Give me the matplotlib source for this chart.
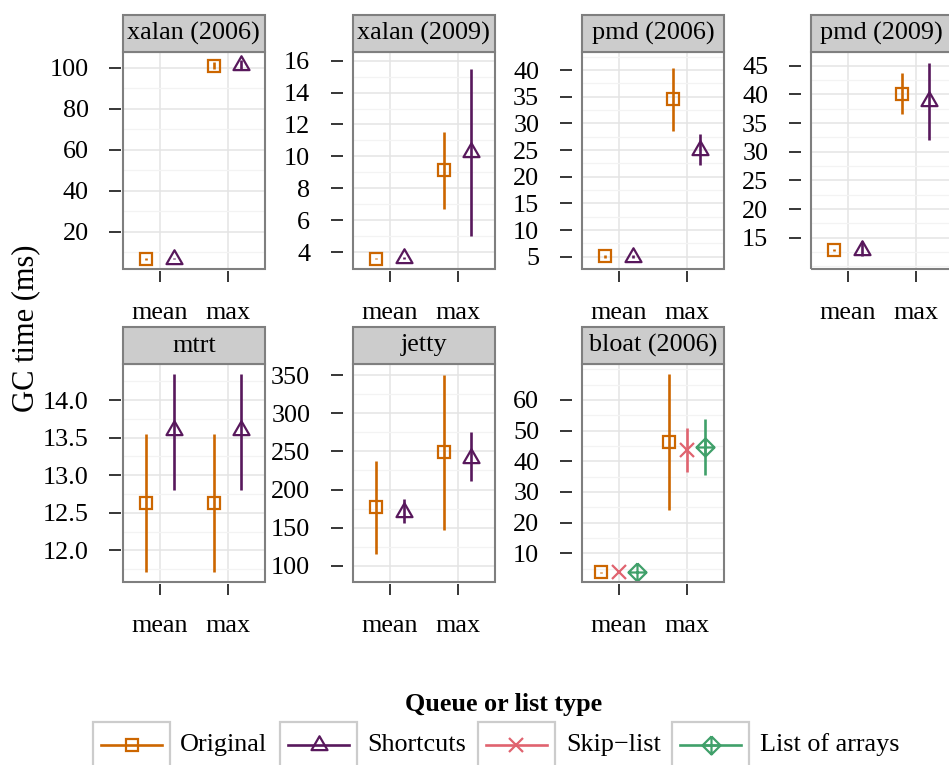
import matplotlib
matplotlib.use('Agg')
import matplotlib.pyplot as plt
from matplotlib.path import Path
from matplotlib.patches import Rectangle
from matplotlib.lines import Line2D
from matplotlib.ticker import MultipleLocator, FormatStrFormatter
import numpy as np

plt.rcParams['font.family'] = ['Liberation Serif', 'DejaVu Serif']

# ── Data: GC time (ms) per benchmark, [mean, max] ─────────────
benchmarks = ['xalan (2006)', 'xalan (2009)', 'pmd (2006)', 'pmd (2009)',
              'mtrt', 'jetty', 'bloat (2006)']
stats = ['mean', 'max']
series_names = ['Original', 'Shortcuts', 'Skip\u2212list', 'List of arrays']

orig_val = [[6.7, 101.0], [3.6, 9.13], [5.1, 34.5], [12.85, 40.1],
            [12.63, 12.63], [177, 249], [3.8, 46.2]]
orig_lo = [[6.4, 99.2], [3.55, 6.7], [4.8, 28.6], [12.6, 36.6],
           [11.71, 11.71], [116, 147], [3.6, 24.1]]
orig_hi = [[7.0, 102.8], [3.65, 11.5], [5.4, 40.4], [13.1, 43.7],
           [13.545, 13.545], [237.5, 351], [4.0, 68.4]]

short_val = [[6.9, 101.3], [3.65, 10.27], [5.0, 25.0], [12.9, 38.9],
             [13.6, 13.6], [171, 242], None]
short_lo = [[6.6, 98.8], [3.6, 5.0], [4.7, 22.2], [11.8, 32.0],
            [12.81, 12.81], [156, 211], None]
short_hi = [[7.2, 103.8], [3.7, 15.5], [5.3, 28.0], [14.4, 45.4],
            [14.35, 14.35], [188, 275], None]

skip_val = [None, None, None, None, None, None, [4.0, 43.7]]
skip_lo = [None, None, None, None, None, None, [4.0, 36.6]]
skip_hi = [None, None, None, None, None, None, [4.0, 50.8]]

arrays_val = [None, None, None, None, None, None, [3.8, 44.8]]
arrays_lo = [None, None, None, None, None, None, [3.7, 35.5]]
arrays_hi = [None, None, None, None, None, None, [3.9, 53.9]]

y_ticks = [[20, 40, 60, 80, 100],
           [4, 6, 8, 10, 12, 14, 16],
           [5, 10, 15, 20, 25, 30, 35, 40],
           [15, 20, 25, 30, 35, 40, 45],
           [12.0, 12.5, 13.0, 13.5, 14.0],
           [100, 150, 200, 250, 300, 350],
           [10, 20, 30, 40, 50, 60]]
y_lims = [(1.8, 107.7), (2.95, 16.54), (2.7, 43.4), (9.54, 47.4),
          (11.58, 14.48), (78.6, 364.8), (0.64, 71.7)]

# ── Styles ─────────────────────────────────────────────────────
colors = ['#cc6600', '#58185c', '#e0636f', '#40a06a']

tri = Path([(-1, -0.577), (1, -0.577), (0, 1.155), (-1, -0.577)],
           [Path.MOVETO, Path.LINETO, Path.LINETO, Path.CLOSEPOLY])
dia_plus = Path([(0, 1), (1, 0), (0, -1), (-1, 0), (0, 1),
                 (-1, 0), (1, 0), (0, -1), (0, 1)],
                [Path.MOVETO, Path.LINETO, Path.LINETO, Path.LINETO, Path.LINETO,
                 Path.MOVETO, Path.LINETO, Path.MOVETO, Path.LINETO])
markers = ['s', tri, 'x', dia_plus]
msizes = [8.6, 13.3, 9.4, 13.0]
LW = 1.9
MEW = 1.6

series = [(orig_val, orig_lo, orig_hi), (short_val, short_lo, short_hi),
          (skip_val, skip_lo, skip_hi), (arrays_val, arrays_lo, arrays_hi)]

FS = 18.8
W, H = 949, 765
fig = plt.figure(figsize=(W / 100, H / 100), dpi=100)

col_x = [122.7, 352.7, 581.7, 810.7]
# first column's y ticks sit right against the panel, the others further out
tick_gap = [1.2, 7.2, 7.2, 7.2]
pw = 142.3
rows = [(52, 269), (364, 582)]
strip_h = 37

for i, name in enumerate(benchmarks):
    r, c = divmod(i, 4)
    top, bot = rows[r]
    ph = bot - top
    ax = fig.add_axes([col_x[c] / W, 1 - bot / H, pw / W, ph / H])

    ax.set_xlim(0.45, 2.55)
    ax.set_ylim(*y_lims[i])
    ax.set_xticks([1, 2])
    ax.set_xticklabels(stats)
    ax.set_yticks(y_ticks[i])
    step = y_ticks[i][1] - y_ticks[i][0]
    ax.yaxis.set_minor_locator(MultipleLocator(step / 2))
    if step < 1:
        ax.yaxis.set_major_formatter(FormatStrFormatter('%.1f'))

    ax.grid(which='major', color='#e4e4e4', lw=1.1)
    ax.grid(which='minor', axis='y', color='#f3f3f3', lw=0.9)
    ax.set_axisbelow(True)

    for s in ax.spines.values():
        s.set_visible(False)
    ax.spines['left'].set_position(('outward', tick_gap[c]))
    ax.spines['bottom'].set_position(('outward', 1.5))
    ax.tick_params(axis='y', which='major', direction='out', length=9,
                   width=1.1, pad=14.4, labelsize=FS)
    ax.tick_params(axis='x', which='major', direction='out', length=8,
                   width=1.1, pad=14.5, labelsize=FS)
    ax.tick_params(which='minor', length=0)

    ax.add_patch(Rectangle((0, 0), 1, 1, transform=ax.transAxes, fill=False,
                           ec='#7f7f7f', lw=1.5, clip_on=False, zorder=5))
    sh = strip_h / ph
    ax.add_patch(Rectangle((0, 1), 1, sh, transform=ax.transAxes, fc='#cccccc',
                           ec='#7f7f7f', lw=1.5, clip_on=False, zorder=5))
    ax.text(0.5, 1 + sh / 2, name, transform=ax.transAxes, ha='center',
            va='center', fontsize=FS, zorder=6)

    present = [k for k in range(4) if series[k][0][i] is not None]
    n = len(present)
    offsets = (np.arange(n) - (n - 1) / 2) * 0.8 / n
    for off, k in zip(offsets, present):
        val, lo, hi = (np.array(a[i], dtype=float) for a in series[k])
        x = np.arange(1, 3) + off
        ax.vlines(x, lo, hi, color=colors[k], lw=LW, zorder=3)
        ax.plot(x, val, ls='none', marker=markers[k], ms=msizes[k], mfc='none',
                mec=colors[k], mew=MEW, zorder=4)

fig.text(26 / W, 1 - 328 / H, 'GC time (ms)', rotation=90, ha='center',
         va='center', fontsize=22)

# ── Legend ─────────────────────────────────────────────────────
fig.text(504 / W, 1 - 704 / H, 'Queue or list type', ha='center', va='center',
         fontsize=FS, fontweight='bold')
lax = fig.add_axes([0, 0, 1, 85 / H])
lax.set_xlim(0, W)
lax.set_ylim(H, H - 85)
lax.axis('off')
key_x = [93.5, 280.5, 478, 672.5]
label_x = [180, 367, 566, 760]
for k in range(4):
    lax.add_patch(Rectangle((key_x[k], 722), 77, 60, fc='white', ec='#cccccc',
                            lw=1.6))
    lax.add_line(Line2D([key_x[k] + 8, key_x[k] + 69], [745, 745],
                        color=colors[k], lw=LW))
    lax.plot([key_x[k] + 38.5], [745], ls='none', marker=markers[k],
             ms=msizes[k], mfc='none', mec=colors[k], mew=MEW)
    lax.text(label_x[k], 745, series_names[k], ha='left', va='center',
             fontsize=FS)

fig.savefig('out.png', dpi=100)
